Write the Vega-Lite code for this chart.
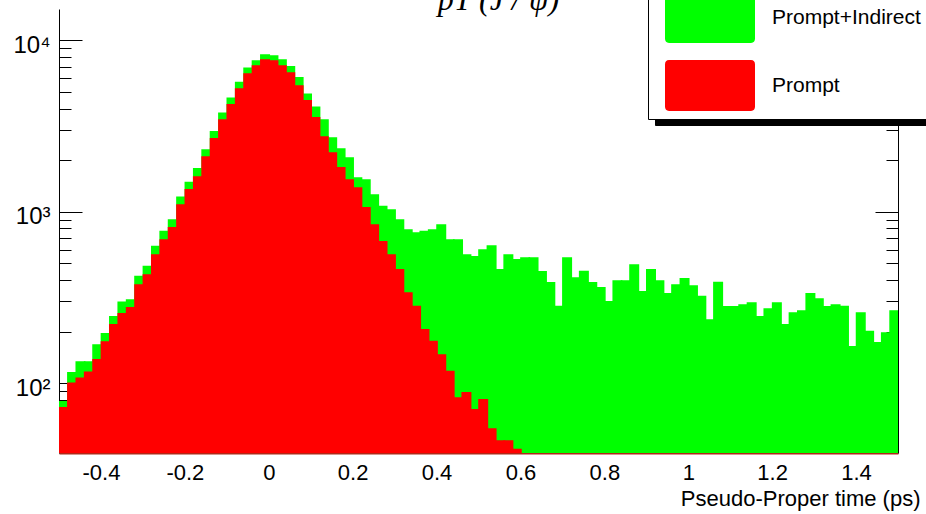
{
  "$schema": "https://vega.github.io/schema/vega-lite/v6.json",
  "width": 839,
  "height": 444,
  "autosize": {"type": "none"},
  "padding": {"left": 59, "top": 9, "right": 28, "bottom": 61},
  "background": "white",
  "title": {
    "text": "pT (J / ψ)",
    "anchor": "middle",
    "frame": "group",
    "orient": "top",
    "offset": 0,
    "dx": 20,
    "dy": 58,
    "baseline": "alphabetic",
    "font": "Liberation Serif",
    "fontStyle": "italic",
    "fontWeight": "normal",
    "fontSize": 32,
    "color": "black"
  },
  "config": {
    "view": {"stroke": null},
    "font": "Liberation Sans",
    "axis": {"grid": false, "labelColor": "black", "tickColor": "black", "domainColor": "black", "titleColor": "black", "titleFontWeight": "normal", "labelFont": "Liberation Sans", "titleFont": "Liberation Sans", "zindex": 1}
  },
  "data": {
    "values": [
      {"t": -0.5, "s": "Prompt+Indirect", "n": 78}, {"t": -0.48, "s": "Prompt+Indirect", "n": 115}, {"t": -0.46, "s": "Prompt+Indirect", "n": 133}, {"t": -0.44, "s": "Prompt+Indirect", "n": 133}, {"t": -0.42, "s": "Prompt+Indirect", "n": 167},
      {"t": -0.4, "s": "Prompt+Indirect", "n": 194}, {"t": -0.38, "s": "Prompt+Indirect", "n": 244}, {"t": -0.36, "s": "Prompt+Indirect", "n": 297}, {"t": -0.34, "s": "Prompt+Indirect", "n": 306}, {"t": -0.32, "s": "Prompt+Indirect", "n": 419},
      {"t": -0.3, "s": "Prompt+Indirect", "n": 479}, {"t": -0.28, "s": "Prompt+Indirect", "n": 626}, {"t": -0.26, "s": "Prompt+Indirect", "n": 766}, {"t": -0.24, "s": "Prompt+Indirect", "n": 896}, {"t": -0.22, "s": "Prompt+Indirect", "n": 1216},
      {"t": -0.2, "s": "Prompt+Indirect", "n": 1479}, {"t": -0.18, "s": "Prompt+Indirect", "n": 1778}, {"t": -0.16, "s": "Prompt+Indirect", "n": 2291}, {"t": -0.14, "s": "Prompt+Indirect", "n": 2930}, {"t": -0.12, "s": "Prompt+Indirect", "n": 3750},
      {"t": -0.1, "s": "Prompt+Indirect", "n": 4590}, {"t": -0.08, "s": "Prompt+Indirect", "n": 5660}, {"t": -0.06, "s": "Prompt+Indirect", "n": 6870}, {"t": -0.04, "s": "Prompt+Indirect", "n": 7570}, {"t": -0.02, "s": "Prompt+Indirect", "n": 8210},
      {"t": 0, "s": "Prompt+Indirect", "n": 8090}, {"t": 0.02, "s": "Prompt+Indirect", "n": 7670}, {"t": 0.04, "s": "Prompt+Indirect", "n": 7010}, {"t": 0.06, "s": "Prompt+Indirect", "n": 6050}, {"t": 0.08, "s": "Prompt+Indirect", "n": 4840},
      {"t": 0.1, "s": "Prompt+Indirect", "n": 4070}, {"t": 0.12, "s": "Prompt+Indirect", "n": 3430}, {"t": 0.14, "s": "Prompt+Indirect", "n": 2690}, {"t": 0.16, "s": "Prompt+Indirect", "n": 2323}, {"t": 0.18, "s": "Prompt+Indirect", "n": 2060},
      {"t": 0.2, "s": "Prompt+Indirect", "n": 1574}, {"t": 0.22, "s": "Prompt+Indirect", "n": 1531}, {"t": 0.24, "s": "Prompt+Indirect", "n": 1253}, {"t": 0.26, "s": "Prompt+Indirect", "n": 1072}, {"t": 0.28, "s": "Prompt+Indirect", "n": 1024},
      {"t": 0.3, "s": "Prompt+Indirect", "n": 896}, {"t": 0.32, "s": "Prompt+Indirect", "n": 783}, {"t": 0.34, "s": "Prompt+Indirect", "n": 752}, {"t": 0.36, "s": "Prompt+Indirect", "n": 766}, {"t": 0.38, "s": "Prompt+Indirect", "n": 783},
      {"t": 0.4, "s": "Prompt+Indirect", "n": 838}, {"t": 0.42, "s": "Prompt+Indirect", "n": 685}, {"t": 0.44, "s": "Prompt+Indirect", "n": 685}, {"t": 0.46, "s": "Prompt+Indirect", "n": 560}, {"t": 0.48, "s": "Prompt+Indirect", "n": 547},
      {"t": 0.5, "s": "Prompt+Indirect", "n": 599}, {"t": 0.52, "s": "Prompt+Indirect", "n": 632}, {"t": 0.54, "s": "Prompt+Indirect", "n": 458}, {"t": 0.56, "s": "Prompt+Indirect", "n": 560}, {"t": 0.58, "s": "Prompt+Indirect", "n": 524},
      {"t": 0.6, "s": "Prompt+Indirect", "n": 538}, {"t": 0.62, "s": "Prompt+Indirect", "n": 538}, {"t": 0.64, "s": "Prompt+Indirect", "n": 446}, {"t": 0.66, "s": "Prompt+Indirect", "n": 385}, {"t": 0.68, "s": "Prompt+Indirect", "n": 280},
      {"t": 0.7, "s": "Prompt+Indirect", "n": 538}, {"t": 0.72, "s": "Prompt+Indirect", "n": 411}, {"t": 0.74, "s": "Prompt+Indirect", "n": 448}, {"t": 0.76, "s": "Prompt+Indirect", "n": 385}, {"t": 0.78, "s": "Prompt+Indirect", "n": 360},
      {"t": 0.8, "s": "Prompt+Indirect", "n": 299}, {"t": 0.82, "s": "Prompt+Indirect", "n": 395}, {"t": 0.84, "s": "Prompt+Indirect", "n": 395}, {"t": 0.86, "s": "Prompt+Indirect", "n": 489}, {"t": 0.88, "s": "Prompt+Indirect", "n": 342},
      {"t": 0.9, "s": "Prompt+Indirect", "n": 458}, {"t": 0.92, "s": "Prompt+Indirect", "n": 395}, {"t": 0.94, "s": "Prompt+Indirect", "n": 332}, {"t": 0.96, "s": "Prompt+Indirect", "n": 374}, {"t": 0.98, "s": "Prompt+Indirect", "n": 406},
      {"t": 1, "s": "Prompt+Indirect", "n": 369}, {"t": 1.02, "s": "Prompt+Indirect", "n": 320}, {"t": 1.04, "s": "Prompt+Indirect", "n": 234}, {"t": 1.06, "s": "Prompt+Indirect", "n": 386}, {"t": 1.08, "s": "Prompt+Indirect", "n": 279},
      {"t": 1.1, "s": "Prompt+Indirect", "n": 279}, {"t": 1.12, "s": "Prompt+Indirect", "n": 286}, {"t": 1.14, "s": "Prompt+Indirect", "n": 294}, {"t": 1.16, "s": "Prompt+Indirect", "n": 244}, {"t": 1.18, "s": "Prompt+Indirect", "n": 271},
      {"t": 1.2, "s": "Prompt+Indirect", "n": 294}, {"t": 1.22, "s": "Prompt+Indirect", "n": 219}, {"t": 1.24, "s": "Prompt+Indirect", "n": 257}, {"t": 1.26, "s": "Prompt+Indirect", "n": 264}, {"t": 1.28, "s": "Prompt+Indirect", "n": 332},
      {"t": 1.3, "s": "Prompt+Indirect", "n": 310}, {"t": 1.32, "s": "Prompt+Indirect", "n": 279}, {"t": 1.34, "s": "Prompt+Indirect", "n": 286}, {"t": 1.36, "s": "Prompt+Indirect", "n": 280}, {"t": 1.38, "s": "Prompt+Indirect", "n": 163},
      {"t": 1.4, "s": "Prompt+Indirect", "n": 257}, {"t": 1.42, "s": "Prompt+Indirect", "n": 200}, {"t": 1.44, "s": "Prompt+Indirect", "n": 172}, {"t": 1.46, "s": "Prompt+Indirect", "n": 196}, {"t": 1.48, "s": "Prompt+Indirect", "n": 264},
      {"t": -0.5, "s": "Prompt", "n": 72}, {"t": -0.48, "s": "Prompt", "n": 100}, {"t": -0.46, "s": "Prompt", "n": 107}, {"t": -0.44, "s": "Prompt", "n": 116}, {"t": -0.42, "s": "Prompt", "n": 137},
      {"t": -0.4, "s": "Prompt", "n": 174}, {"t": -0.38, "s": "Prompt", "n": 219}, {"t": -0.36, "s": "Prompt", "n": 254}, {"t": -0.34, "s": "Prompt", "n": 275}, {"t": -0.32, "s": "Prompt", "n": 374},
      {"t": -0.3, "s": "Prompt", "n": 428}, {"t": -0.28, "s": "Prompt", "n": 560}, {"t": -0.26, "s": "Prompt", "n": 685}, {"t": -0.24, "s": "Prompt", "n": 805}, {"t": -0.22, "s": "Prompt", "n": 1096},
      {"t": -0.2, "s": "Prompt", "n": 1342}, {"t": -0.18, "s": "Prompt", "n": 1596}, {"t": -0.16, "s": "Prompt", "n": 2088}, {"t": -0.14, "s": "Prompt", "n": 2660}, {"t": -0.12, "s": "Prompt", "n": 3430},
      {"t": -0.1, "s": "Prompt", "n": 4200}, {"t": -0.08, "s": "Prompt", "n": 5200}, {"t": -0.06, "s": "Prompt", "n": 6360}, {"t": -0.04, "s": "Prompt", "n": 7080}, {"t": -0.02, "s": "Prompt", "n": 7680},
      {"t": 0, "s": "Prompt", "n": 7570}, {"t": 0.02, "s": "Prompt", "n": 7080}, {"t": 0.04, "s": "Prompt", "n": 6440}, {"t": 0.06, "s": "Prompt", "n": 5415}, {"t": 0.08, "s": "Prompt", "n": 4430},
      {"t": 0.1, "s": "Prompt", "n": 3530}, {"t": 0.12, "s": "Prompt", "n": 2730}, {"t": 0.14, "s": "Prompt", "n": 2200}, {"t": 0.16, "s": "Prompt", "n": 1802}, {"t": 0.18, "s": "Prompt", "n": 1532},
      {"t": 0.2, "s": "Prompt", "n": 1376}, {"t": 0.22, "s": "Prompt", "n": 1054}, {"t": 0.24, "s": "Prompt", "n": 838}, {"t": 0.26, "s": "Prompt", "n": 669}, {"t": 0.28, "s": "Prompt", "n": 560},
      {"t": 0.3, "s": "Prompt", "n": 458}, {"t": 0.32, "s": "Prompt", "n": 336}, {"t": 0.34, "s": "Prompt", "n": 280}, {"t": 0.36, "s": "Prompt", "n": 205}, {"t": 0.38, "s": "Prompt", "n": 175},
      {"t": 0.4, "s": "Prompt", "n": 146}, {"t": 0.42, "s": "Prompt", "n": 117}, {"t": 0.44, "s": "Prompt", "n": 82}, {"t": 0.46, "s": "Prompt", "n": 88}, {"t": 0.48, "s": "Prompt", "n": 70},
      {"t": 0.5, "s": "Prompt", "n": 80}, {"t": 0.52, "s": "Prompt", "n": 54}, {"t": 0.54, "s": "Prompt", "n": 46}, {"t": 0.56, "s": "Prompt", "n": 46}, {"t": 0.58, "s": "Prompt", "n": 41}
    ]
  },
  "encoding": {
    "x": {
      "field": "t",
      "type": "quantitative",
      "bin": {"binned": true, "step": 0.02},
      "scale": {"domain": [-0.5, 1.5], "nice": false, "zero": false},
      "axis": {
        "values": [-0.45, -0.4, -0.35, -0.3, -0.25, -0.2, -0.15, -0.1, -0.05, 0, 0.05, 0.1, 0.15, 0.2, 0.25, 0.3, 0.35, 0.4, 0.45, 0.5, 0.55, 0.6, 0.65, 0.7, 0.75, 0.8, 0.85, 0.9, 0.95, 1, 1.05, 1.1, 1.15, 1.2, 1.25, 1.3, 1.35, 1.4, 1.45],
        "labelExpr": "abs(datum.value * 5 - round(datum.value * 5)) < 0.001 ? '' + round(datum.value * 10) / 10 : ''",
        "tickSize": {"condition": {"test": "abs(datum.value * 5 - round(datum.value * 5)) < 0.001", "value": -15}, "value": -7},
        "labelPadding": 24,
        "labelFontSize": 22,
        "labelFlush": false,
        "labelOverlap": false,
        "domainColor": "#b02818",
        "domainWidth": 2,
        "title": "Pseudo-Proper time (ps)",
        "titleFontSize": 22,
        "titleAnchor": "end",
        "titleAlign": "right",
        "titleBaseline": "alphabetic",
        "titleX": 861,
        "titleY": 52
      }
    }
  },
  "layer": [
    {
      "transform": [{"filter": "datum.s == 'Prompt+Indirect'"}],
      "mark": {"type": "bar", "binSpacing": 0, "stroke": "#00ff00", "strokeWidth": 1.6, "clip": true},
      "encoding": {
        "y": {
          "field": "n",
          "type": "quantitative",
          "scale": {"type": "log", "domain": [39.2, 15220], "nice": false},
          "axis": {
            "orient": "left",
            "title": null,
            "values": [40, 50, 60, 70, 80, 90, 100, 200, 300, 400, 500, 600, 700, 800, 900, 1000, 2000, 3000, 4000, 5000, 6000, 7000, 8000, 9000, 10000],
            "labelExpr": "datum.value == 100 ? '10²' : datum.value == 1000 ? '10³' : datum.value == 10000 ? '10⁴' : ''",
            "tickSize": {"condition": {"test": "datum.value == 100 || datum.value == 1000 || datum.value == 10000", "value": -23}, "value": -12},
            "labelPadding": 32,
            "labelFontSize": 24,
            "labelFlush": false,
            "labelOverlap": false,
            "labelOffset": 5
          }
        },
        "y2": {"datum": 10},
        "fill": {
          "field": "s",
          "type": "nominal",
          "scale": {"domain": ["Prompt+Indirect", "Prompt"], "range": ["#00ff00", "#ff0000"]},
          "legend": {
            "orient": "none",
            "legendX": 589,
            "legendY": -25,
            "direction": "vertical",
            "title": null,
            "symbolType": "M-0.9,-0.567H0.9Q1,-0.567 1,-0.467V0.467Q1,0.567 0.9,0.567H-0.9Q-1,0.567 -1,0.467V-0.467Q-1,-0.567 -0.9,-0.567Z",
            "symbolSize": 8100,
            "symbolStrokeWidth": 0,
            "symbolOpacity": 1,
            "clipHeight": 51,
            "rowPadding": 17,
            "padding": 8,
            "symbolOffset": 9,
            "labelOffset": 17,
            "labelFont": "Liberation Sans",
            "labelFontSize": 21,
            "labelColor": "black",
            "labelLimit": 400,
            "fillColor": "white",
            "strokeColor": "black",
            "zindex": 2
          }
        },
        "opacity": {
          "field": "s",
          "type": "ordinal",
          "scale": {"domain": ["Prompt", "Prompt+Indirect"], "range": [1, 1]},
          "legend": {
            "orient": "none",
            "legendX": 596,
            "legendY": -19,
            "direction": "vertical",
            "title": null,
            "labelExpr": "''",
            "symbolType": "M-1,-0.159H1V0.159H-1Z",
            "symbolSize": 102400,
            "symbolStrokeWidth": 0,
            "clipHeight": 51,
            "rowPadding": 17,
            "padding": 8,
            "symbolOffset": 9,
            "labelOffset": 17,
            "fillColor": "black",
            "strokeColor": "black",
            "zindex": 0
          }
        }
      }
    },
    {
      "transform": [{"filter": "datum.s == 'Prompt'"}],
      "mark": {"type": "bar", "binSpacing": 0, "stroke": "#ff0000", "strokeWidth": 1.6, "clip": true},
      "encoding": {
        "y": {
          "field": "n",
          "type": "quantitative",
          "axis": {
            "orient": "right",
            "title": null,
            "values": [40, 50, 60, 70, 80, 90, 100, 200, 300, 400, 500, 600, 700, 800, 900, 1000, 2000, 3000, 4000, 5000, 6000, 7000, 8000, 9000, 10000],
            "labels": false,
            "tickSize": {"condition": {"test": "datum.value == 100 || datum.value == 1000 || datum.value == 10000", "value": -23}, "value": -12}
          }
        },
        "y2": {"datum": 10},
        "fill": {"field": "s", "type": "nominal"}
      }
    }
  ],
  "resolve": {"axis": {"y": "independent"}}
}
